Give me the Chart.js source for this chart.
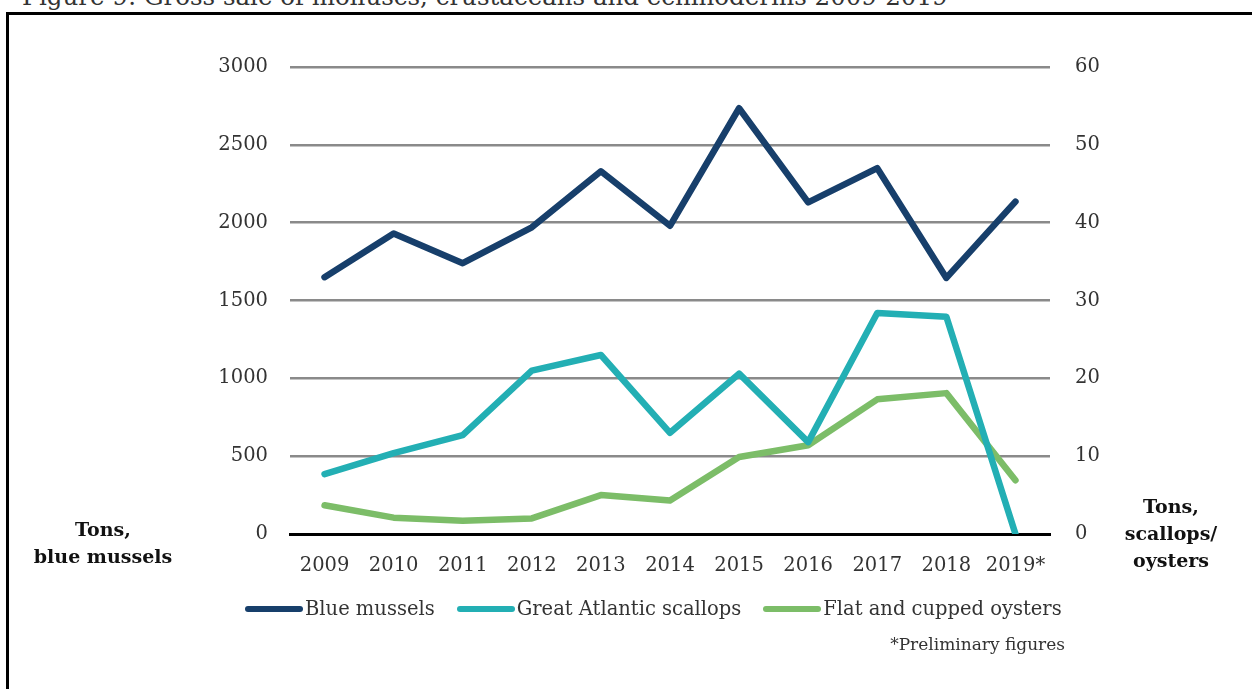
<!DOCTYPE html>
<html>
<head>
<meta charset="utf-8">
<script src="https://cdn.jsdelivr.net/npm/chart.js@4.4.1/dist/chart.umd.min.js"></script>
<style>
  html, body { margin: 0; padding: 0; background: #fff; }
  body { width: 1252px; height: 689px; position: relative; overflow: hidden; font-family: "DejaVu Serif", serif; color: #222; }
  #frame { position: absolute; left: 6px; top: 12px; width: 1300px; height: 800px; border: 3px solid #000; box-sizing: border-box; }
  #title { position: absolute; left: 22px; top: -15px; font-size: 24.5px; line-height: 24px; white-space: nowrap; color: #333; }
  #chartBox { position: absolute; left: 0; top: 0; width: 1252px; height: 689px; }
  .axTitle { position: absolute; font-weight: bold; font-size: 19px; line-height: 27px; text-align: center; color: #111; }
  #legend { position: absolute; left: 245px; top: 597px; display: flex; gap: 22px; font-size: 19.5px; color: #333; }
  .item { display: flex; align-items: center; }
  .swatch { width: 58px; height: 6px; border-radius: 3px; margin-right: 2px; }
  #note { position: absolute; right: 187px; top: 634px; font-size: 17px; color: #333; }
</style>
</head>
<body>
<div id="title">Figure 9: Gross sale of molluscs, crustaceans and echinoderms 2009-2019</div>
<div id="frame"></div>
<div id="chartBox"><canvas id="myChart" width="1252" height="689"></canvas></div>
<div class="axTitle" style="left:20px; top:516px; width:166px;">Tons,<br>blue mussels</div>
<div class="axTitle" style="left:1110px; top:493px; width:122px;">Tons,<br>scallops/<br>oysters</div>
<div id="legend"></div>
<div id="note">*Preliminary figures</div>
<script>
const years = ['2009', '2010', '2011', '2012', '2013', '2014', '2015', '2016', '2017', '2018', '2019*'];
const blueMussels = [1650, 1930, 1740, 1970, 2330, 1980, 2735, 2130, 2350, 1645, 2135];
const scallops = [7.7, 10.4, 12.7, 21.0, 23.0, 13.0, 20.6, 11.8, 28.4, 27.9, 0];
const oysters = [3.7, 2.1, 1.7, 2.0, 5.0, 4.3, 9.9, 11.4, 17.3, 18.1, 6.9];

const navy = '#173f6b';
const teal = '#23afb4';
const green = '#7cbd68';

const lineStyle = { borderWidth: 6.5, pointRadius: 0, borderCapStyle: 'round', borderJoinStyle: 'round', tension: 0, fill: false };

const tickFont = { family: 'DejaVu Serif', size: 19.5 };
const plain = v => String(v);

const ctx = document.getElementById('myChart').getContext('2d');
const chart = new Chart(ctx, {
    type: 'line',
    data: {
        labels: years,
        datasets: [{
            label: 'Blue mussels',
            data: blueMussels,
            borderColor: navy,
            backgroundColor: navy,
            yAxisID: 'y',
            ...lineStyle
        }, {
            label: 'Great Atlantic scallops',
            data: scallops,
            borderColor: teal,
            backgroundColor: teal,
            yAxisID: 'y2',
            ...lineStyle
        }, {
            label: 'Flat and cupped oysters',
            data: oysters,
            borderColor: green,
            backgroundColor: green,
            yAxisID: 'y2',
            ...lineStyle
        }]
    },
    options: {
        responsive: false,
        maintainAspectRatio: false,
        animation: false,
        devicePixelRatio: 1,
        layout: { padding: { left: 190, right: 102, top: 67, bottom: 115 } },
        plugins: { legend: { display: false }, tooltip: { enabled: false } },
        scales: {
            x: {
                offset: true,
                grid: { display: false, offset: true },
                border: { color: '#000', width: 3 },
                ticks: { font: tickFont, color: '#333', padding: 12, maxRotation: 0 },
                afterFit: s => { s.height = 40; }
            },
            y: {
                position: 'left',
                min: 0, max: 3000,
                grid: { color: '#8a8a8a', lineWidth: 2.5, drawTicks: false },
                border: { display: false },
                ticks: { stepSize: 500, font: tickFont, color: '#333', padding: 22, callback: plain },
                afterFit: s => { s.width = 100; }
            },
            y2: {
                position: 'right',
                min: 0, max: 60,
                grid: { display: false, drawTicks: false },
                border: { display: false },
                ticks: { stepSize: 10, font: tickFont, color: '#333', padding: 25, callback: plain },
                afterFit: s => { s.width = 100; }
            }
        }
    }
});

// legend from datasets
const legend = document.getElementById('legend');
chart.data.datasets.forEach(ds => {
    const item = document.createElement('div');
    item.className = 'item';
    const sw = document.createElement('span');
    sw.className = 'swatch';
    sw.style.background = ds.borderColor;
    const tx = document.createElement('span');
    tx.textContent = ds.label;
    item.appendChild(sw);
    item.appendChild(tx);
    legend.appendChild(item);
});
</script>
</body>
</html>
